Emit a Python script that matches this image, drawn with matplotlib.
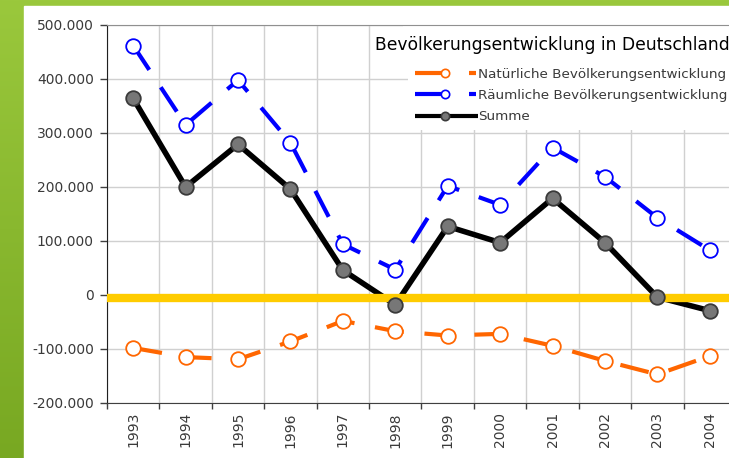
#!/usr/bin/env python3
# -*- coding: utf-8 -*-

"""Bevoelkerungsentwicklung in Deutschland, 1993-2004"""

import matplotlib
matplotlib.use('Agg')
import matplotlib.pyplot as plt
import numpy as np
from matplotlib.legend_handler import HandlerBase
from matplotlib.lines import Line2D
from matplotlib.ticker import FuncFormatter, MultipleLocator

# -- Data -- #
years = ['1993', '1994', '1995', '1996', '1997', '1998',
         '1999', '2000', '2001', '2002', '2003', '2004']
natuerlich = [-98000, -115000, -119000, -86000, -48000, -67000,
              -75000, -72000, -94000, -122000, -147000, -113000]
raeumlich = [462000, 315000, 398000, 282000, 94000, 47000,
             202000, 167000, 273000, 219000, 143000, 83000]
summe = [364000, 200000, 279000, 196000, 46000, -18000,
         127000, 97000, 179000, 97000, -4000, -29000]
null_linie = -5000

labels = ['Natürliche Bevölkerungsentwicklung',
          'Räumliche Bevölkerungsentwicklung',
          'Summe']
title = 'Bevölkerungsentwicklung in Deutschland'

ORANGE = '#ff6600'
BLUE = '#0000ff'
BLACK = '#000000'
YELLOW = '#ffcc00'
TEXT = '#3a3a3a'

W, H = 729, 458  # px


class CutLineHandler(HandlerBase):
    """Excel-like legend key: line up to the marker, optional little dash after it."""

    def __init__(self, cut=True):
        super().__init__()
        self.cut = cut

    def create_artists(self, legend, orig_handle, xdescent, ydescent,
                       width, height, fontsize, trans):
        y = height / 2 - ydescent
        x0 = -xdescent
        col = orig_handle.get_color()
        lw = orig_handle.get_linewidth()
        arts = []
        if self.cut:
            arts.append(Line2D([x0, x0 + width * 0.48], [y, y], color=col, lw=lw,
                               solid_capstyle='butt'))
            arts.append(Line2D([x0 + width * 0.86, x0 + width * 0.97], [y, y],
                               color=col, lw=lw, solid_capstyle='butt'))
        else:
            arts.append(Line2D([x0, x0 + width], [y, y], color=col, lw=lw,
                               solid_capstyle='butt'))
        arts.append(Line2D([x0 + width * 0.48], [y], marker='o', markersize=6,
                           markerfacecolor=orig_handle.get_markerfacecolor(),
                           markeredgecolor=orig_handle.get_markeredgecolor(),
                           markeredgewidth=1.2, linestyle='none'))
        for a in arts:
            a.set_transform(trans)
        return arts


def thousands(v, pos):
    return f'{int(v):,}'.replace(',', '.')


def main():
    fig = plt.figure(figsize=(W / 100, H / 100), dpi=100)

    # green gradient background with white chart panel
    bg = fig.add_axes([0, 0, 1, 1], zorder=-10)
    grad = np.linspace(0, 1, 256).reshape(-1, 1)
    cmap = matplotlib.colors.LinearSegmentedColormap.from_list('g', ['#9ac83c', '#78a822'])
    bg.imshow(grad, aspect='auto', cmap=cmap, extent=[0, 1, 0, 1])
    bg.add_patch(plt.Rectangle((24 / W, 0), 1, 1 - 6 / H, color='white'))
    bg.set_xlim(0, 1)
    bg.set_ylim(0, 1)
    bg.axis('off')

    ax = fig.add_axes([107 / W, 55 / H, 629 / W, 378 / H])
    ax.set_facecolor('white')
    x = np.arange(len(years))

    ax.plot(x, natuerlich, color=ORANGE, lw=3, dashes=(7, 5), zorder=2)
    ax.plot(x, raeumlich, color=BLUE, lw=3, dashes=(7, 5), zorder=2)
    ax.plot(x, summe, color=BLACK, lw=4, solid_joinstyle='round', zorder=2)
    ax.axhline(null_linie, color=YELLOW, lw=6, zorder=3)

    ax.plot(x, natuerlich, 'o', ms=10.5, mfc='white', mec=ORANGE, mew=1.3, zorder=4)
    ax.plot(x, raeumlich, 'o', ms=10.5, mfc='white', mec=BLUE, mew=1.3, zorder=4)
    ax.plot(x, summe, 'o', ms=10.5, mfc='#777777', mec='#3a3a3a', mew=1.3, zorder=4)

    ax.set_xlim(-0.5, len(years) - 0.5)
    ax.set_ylim(-200000, 500000)
    ax.yaxis.set_major_locator(MultipleLocator(100000))
    ax.yaxis.set_major_formatter(FuncFormatter(thousands))

    ax.set_xticks(np.arange(-0.5, len(years), 1.0))
    ax.set_xticklabels([])
    ax.set_xticks(x, minor=True)
    ax.set_xticklabels(years, minor=True, rotation=90)
    ax.tick_params(axis='x', which='minor', length=0, pad=6.5, labelsize=10, labelcolor=TEXT)
    ax.tick_params(axis='x', which='major', length=4, width=1, color='#404040')
    ax.tick_params(axis='y', length=5, width=1, color='#404040', labelsize=10,
                   labelcolor=TEXT, pad=4.5)

    ax.grid(True, which='major', color='#d0d0d0', lw=1, zorder=0)
    ax.set_axisbelow(True)
    ax.spines['top'].set_color('#909090')
    ax.spines['right'].set_visible(False)
    ax.spines['left'].set_color('#202020')
    ax.spines['bottom'].set_color('#404040')

    # white area behind title and legend
    ax.add_patch(plt.Rectangle((403 / W, 1 - 63 / H), 1, 38 / H, transform=fig.transFigure,
                               facecolor='white', edgecolor='none', zorder=1.5))
    fig.text(375 / W, 1 - 45 / H, title, ha='left', va='center', fontsize=12.3, color=BLACK)

    h_nat = Line2D([], [], color=ORANGE, lw=3, marker='o', mfc='white', mec=ORANGE)
    h_rae = Line2D([], [], color=BLUE, lw=3, marker='o', mfc='white', mec=BLUE)
    h_sum = Line2D([], [], color=BLACK, lw=3, marker='o', mfc='#777777', mec='#3a3a3a')
    leg = ax.legend([h_nat, h_rae, h_sum], labels,
                    handler_map={h_nat: CutLineHandler(True), h_rae: CutLineHandler(True),
                                 h_sum: CutLineHandler(False)},
                    loc='upper right', bbox_to_anchor=(734 / W, 1 - 61 / H),
                    bbox_transform=fig.transFigure,
                    fontsize=9.7, handlelength=4.7, handletextpad=0.0,
                    labelspacing=0.62, borderpad=0.5, borderaxespad=0,
                    frameon=True, fancybox=False, framealpha=1, edgecolor='none',
                    facecolor='white')
    for t in leg.get_texts():
        t.set_color(TEXT)
    leg.set_zorder(5)

    fig.savefig('out.png', dpi=100)


if __name__ == '__main__':
    main()
